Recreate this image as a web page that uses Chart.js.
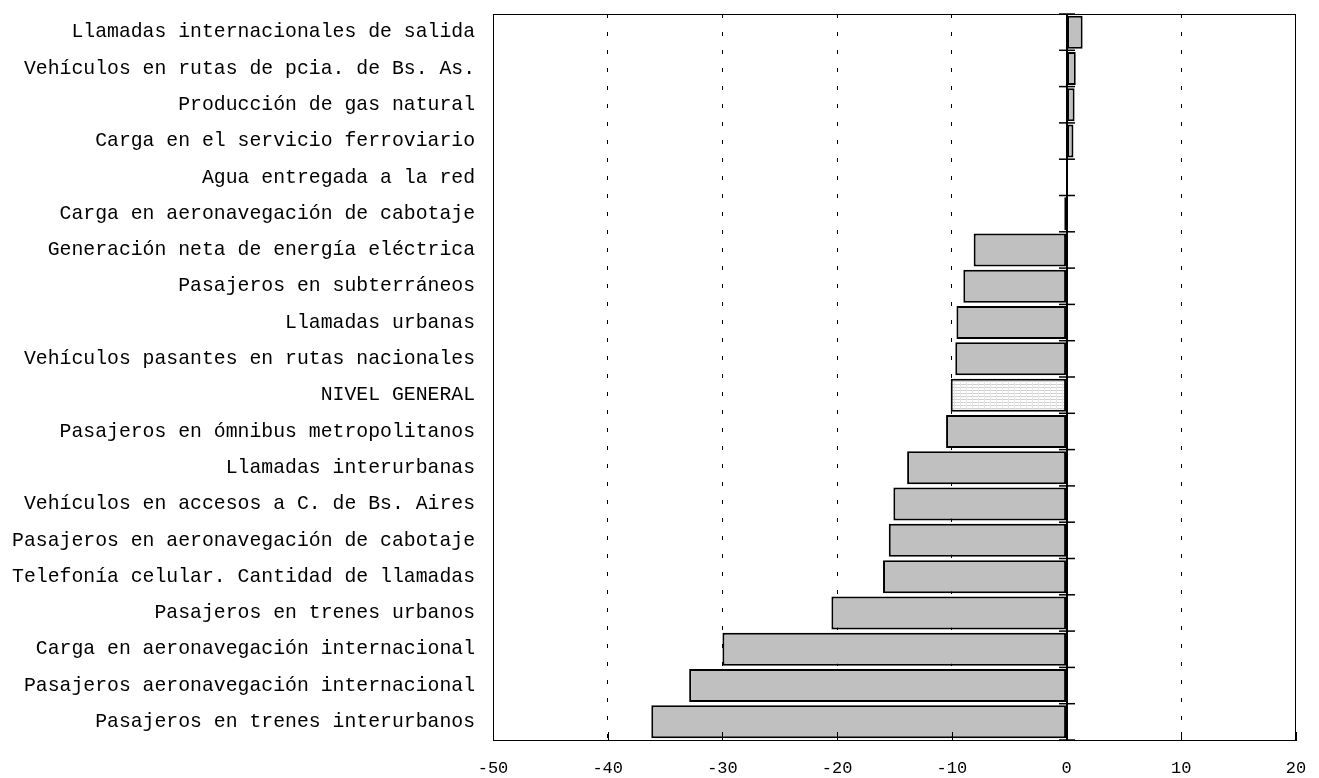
<!DOCTYPE html>
<html>
<head>
<meta charset="utf-8">
<script src="https://cdn.jsdelivr.net/npm/chart.js@4/dist/chart.umd.min.js"></script>
<style>
  html, body { margin: 0; padding: 0; background: #fff; }
  #wrap { width: 1319px; height: 778px; }
</style>
</head>
<body>
<div id="wrap"><canvas id="chart" width="1319" height="778"></canvas></div>
<script>
const categories = [
    'Llamadas internacionales de salida',
    'Vehículos en rutas de pcia. de Bs. As.',
    'Producción de gas natural',
    'Carga en el servicio ferroviario',
    'Agua entregada a la red',
    'Carga en aeronavegación de cabotaje',
    'Generación neta de energía eléctrica',
    'Pasajeros en subterráneos',
    'Llamadas urbanas',
    'Vehículos pasantes en rutas nacionales',
    'NIVEL GENERAL',
    'Pasajeros en ómnibus metropolitanos',
    'Llamadas interurbanas',
    'Vehículos en accesos a C. de Bs. Aires',
    'Pasajeros en aeronavegación de cabotaje',
    'Telefonía celular. Cantidad de llamadas',
    'Pasajeros en trenes urbanos',
    'Carga en aeronavegación internacional',
    'Pasajeros aeronavegación internacional',
    'Pasajeros en trenes interurbanos'
];
const variation = [
    1.4, 0.8, 0.7, 0.6, 0.0, -0.2, -8.1, -9.0, -9.6, -9.7,
    -10.1, -10.5, -13.9, -15.1, -15.5, -16.0, -20.5, -30.0, -32.9, -36.2
];
const xMin = -50;
const xMax = 20;
const xStep = 10;

// light hatched fill for the general level bar
function makeHatch() {
    const c = document.createElement('canvas');
    c.width = 6; c.height = 3;
    const g = c.getContext('2d');
    g.fillStyle = '#ffffff';
    g.fillRect(0, 0, 6, 3);
    g.fillStyle = '#d0d0d0';
    g.fillRect(0, 0, 6, 1);
    g.fillStyle = '#e6e6e6';
    g.fillRect(0, 0, 1, 3);
    return document.getElementById('chart').getContext('2d').createPattern(c, 'repeat');
}
const hatch = makeHatch();

const font = 'Liberation Mono, DejaVu Sans Mono, monospace';

// frame, zero line and the small inner tick marks
const framePlugin = {
    id: 'frame',
    afterDatasetsDraw(chart) {
        const { ctx, chartArea: a, scales: { x, y } } = chart;
        ctx.save();
        ctx.strokeStyle = '#000';
        ctx.lineWidth = 1;
        ctx.strokeRect(a.left + 0.5, a.top + 0.5, a.right - a.left - 1, a.bottom - a.top);

        // ticks on the bottom axis, pointing up
        for (let v = xMin; v <= xMax; v += xStep) {
            const px = Math.round(x.getPixelForValue(v)) + 0.5;
            ctx.beginPath();
            ctx.moveTo(px, a.bottom);
            ctx.lineTo(px, a.bottom - 8);
            ctx.stroke();
        }

        // zero axis
        const x0 = Math.round(x.getPixelForValue(0));
        ctx.lineWidth = 2;
        ctx.beginPath();
        ctx.moveTo(x0, a.top);
        ctx.lineTo(x0, a.bottom);
        ctx.stroke();

        ctx.lineWidth = 1.5;
        for (let i = 0; i <= categories.length; i++) {
            const py = (y.getPixelForValue(i) + y.getPixelForValue(i - 1)) / 2;
            ctx.beginPath();
            ctx.moveTo(x0 - 8, py);
            ctx.lineTo(x0 + 8, py);
            ctx.stroke();
        }
        ctx.restore();
    }
};

new Chart(document.getElementById('chart').getContext('2d'), {
    type: 'bar',
    data: {
        labels: categories,
        datasets: [{
            data: variation,
            backgroundColor: categories.map(c => c === 'NIVEL GENERAL' ? hatch : '#c0c0c0'),
            borderColor: '#000',
            borderWidth: 2,
            borderSkipped: false,
            barPercentage: 0.91,
            categoryPercentage: 1
        }]
    },
    options: {
        indexAxis: 'y',
        responsive: false,
        animation: false,
        layout: { padding: { top: 14, right: 23, left: 0, bottom: 0 } },
        plugins: {
            legend: { display: false },
            tooltip: { enabled: false }
        },
        scales: {
            x: {
                min: xMin,
                max: xMax,
                ticks: {
                    stepSize: xStep,
                    color: '#000',
                    padding: 18,
                    font: { family: font, size: 17 }
                },
                grid: {
                    drawTicks: false,
                    lineWidth: 1,
                    color: ctx => (ctx.tick && (ctx.tick.value === 0 || ctx.tick.value === xMin || ctx.tick.value === xMax)) ? 'rgba(0,0,0,0)' : '#000'
                },
                border: { display: true, color: '#000', width: 1, dash: [4, 14] },
                afterFit: s => { s.height = 38; s.paddingLeft = 0; s.paddingRight = 0; }
            },
            y: {
                ticks: {
                    color: '#000',
                    padding: 18,
                    font: { family: font, size: 19.8 }
                },
                grid: { display: false, drawTicks: false },
                border: { display: true, color: '#000', width: 1 },
                afterFit: s => { s.width = 493; s.paddingTop = 0; s.paddingBottom = 0; }
            }
        }
    },
    plugins: [framePlugin]
});
</script>
</body>
</html>
